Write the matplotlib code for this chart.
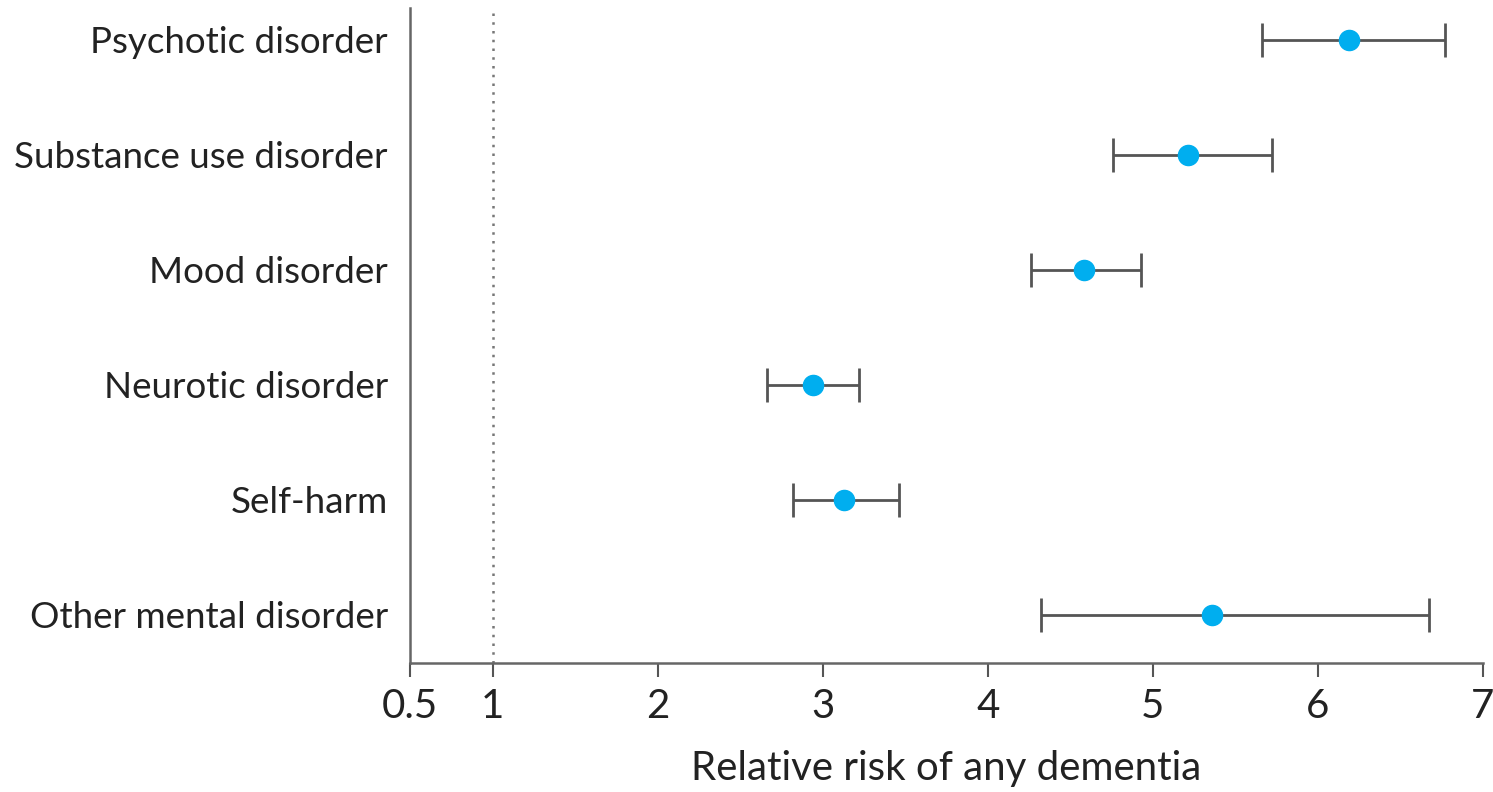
import matplotlib.pyplot as plt

# Datos
categories = ['Psychotic disorder', 'Substance use disorder', 'Mood disorder',
              'Neurotic disorder', 'Self-harm', 'Other mental disorder']
rr = [6.19, 5.21, 4.58, 2.94, 3.13, 5.36]
ci_low = [5.66, 4.76, 4.26, 2.66, 2.82, 4.32]
ci_high = [6.77, 5.72, 4.93, 3.22, 3.46, 6.67]
xticks = [0.5, 1, 2, 3, 4, 5, 6, 7]
xtick_labels = ['0.5', '1', '2', '3', '4', '5', '6', '7']

plt.rcParams['font.family'] = ['Lato', 'DejaVu Sans']

fig = plt.figure(figsize=(14.93, 7.92), dpi=100)
ax = fig.add_axes([0.2746, 0.163, 0.7187, 0.827])

y = list(range(len(categories)))
err_lo = [r - l for r, l in zip(rr, ci_low)]
err_hi = [h - r for r, h in zip(rr, ci_high)]

ax.axvline(1, color='#777777', linestyle=(0, (1, 2.5)), linewidth=1.8, zorder=1)
ax.errorbar(rr, y, xerr=[err_lo, err_hi], fmt='o', color='#00AEEF',
            ecolor='#555555', elinewidth=2, capsize=12, capthick=2,
            markersize=14.5, zorder=3)

ax.set_xlim(0.5, 7)
ax.set_ylim(5.417, -0.278)
ax.set_yticks(y)
ax.set_yticklabels(categories, fontsize=26.5, color='#222222')
ax.set_xticks(xticks)
ax.set_xticklabels(xtick_labels, fontsize=29, color='#222222')
ax.tick_params(axis='y', length=0, pad=16)
ax.tick_params(axis='x', length=10, width=1.5, color='#555555', pad=8)
ax.set_xlabel('Relative risk of any dementia', fontsize=29, color='#222222', labelpad=18)

for s in ['top', 'right']:
    ax.spines[s].set_visible(False)
for s in ['left', 'bottom']:
    ax.spines[s].set_color('#666666')
    ax.spines[s].set_linewidth(1.8)

fig.savefig('out.png', dpi=100)
